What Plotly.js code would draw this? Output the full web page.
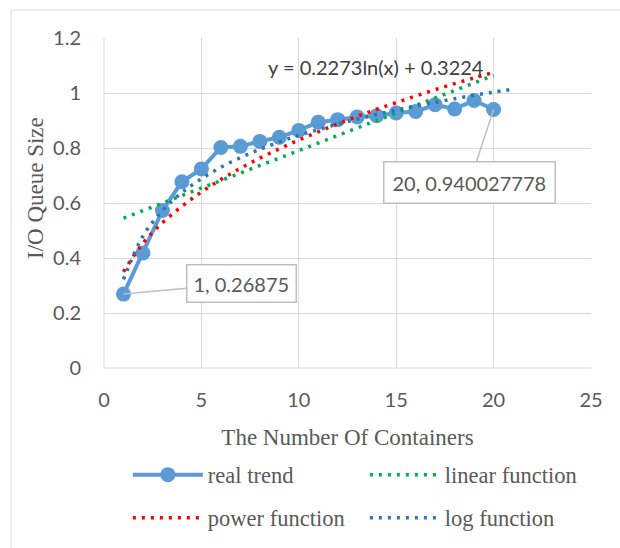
<!DOCTYPE html>
<html>
<head>
<meta charset="utf-8">
<script src="https://cdn.plot.ly/plotly-3.0.1.min.js"></script>
<style>html,body{margin:0;padding:0;background:#fff;}#chart{width:620px;height:548px;}</style>
</head>
<body>
<div id="chart"></div>
<script>
// ---- data ----
const containers = [1,2,3,4,5,6,7,8,9,10,11,12,13,14,15,16,17,18,19,20];
const realTrend = [0.26875,0.418,0.573,0.677,0.724,0.802,0.806,0.824,0.839,0.864,0.894,0.903,0.913,0.917,0.927,0.933,0.957,0.942,0.973,0.940027778];

const linearX = [1,20];
const linearY = [0.545,1.064];

const powerX = [1,2,3,4,5,6,7,8,9,10,11,12,13,14,15,16,17,18,19,20];
const powerY = [0.350,0.454,0.528,0.588,0.640,0.685,0.726,0.763,0.797,0.829,0.859,0.888,0.915,0.941,0.965,0.989,1.012,1.034,1.055,1.075];

const logX = [1,2,3,4,5,6,7,8,9,10,11,12,13,14,15,16,17,18,19,20,21];
const logY = [0.322,0.480,0.572,0.638,0.688,0.730,0.765,0.795,0.822,0.846,0.867,0.887,0.905,0.922,0.938,0.953,0.966,0.979,0.992,1.003,1.014];

const seriesNames = ['real trend','linear function','power function','log function'];
const xTickVals = [0,5,10,15,20,25];
const yTickVals = [0,0.2,0.4,0.6,0.8,1.0,1.2];
const yTickText = ['0','0.2','0.4','0.6','0.8','1','1.2'];
const equationText = 'y = 0.2273ln(x) + 0.3224';
const xTitle = 'The Number Of Containers';
const yTitle = 'I/O Queue Size';

const sansFont = 'Lato, "Open Sans", sans-serif';
const serifFont = '"Liberation Serif", "DejaVu Serif", serif';
const grey = '#595959';
const dotted = '3px,6px';

const traces = [
  {x: containers, y: realTrend, name: seriesNames[0], mode: 'lines+markers', type: 'scatter',
   line: {color: '#5B9BD5', width: 4}, marker: {color: '#5B9BD5', size: 15}, legend: 'legend'},
  {x: linearX, y: linearY, name: seriesNames[1], mode: 'lines', type: 'scatter',
   line: {color: '#00B050', width: 3.5, dash: dotted}, legend: 'legend'},
  {x: powerX, y: powerY, name: seriesNames[2], mode: 'lines', type: 'scatter',
   line: {color: '#FF0000', width: 3.5, dash: dotted, shape: 'spline'}, legend: 'legend2'},
  {x: logX, y: logY, name: seriesNames[3], mode: 'lines', type: 'scatter',
   line: {color: '#2E75B6', width: 3.5, dash: dotted, shape: 'spline'}, legend: 'legend2'}
];

const n = containers.length;
const legendBase = {
  orientation: 'h', xanchor: 'left', yanchor: 'middle',
  itemwidth: 70, entrywidth: 152, entrywidthmode: 'pixels',
  font: {family: serifFont, size: 22.5, color: grey}, bgcolor: 'rgba(0,0,0,0)'
};
const layout = {
  width: 620, height: 548,
  margin: {l: 104, r: 29, t: 38, b: 180, autoexpand: false},
  paper_bgcolor: '#fff', plot_bgcolor: '#fff',
  showlegend: true,
  xaxis: {
    range: [0, 25], tickvals: xTickVals, showgrid: true, gridcolor: '#D9D9D9', gridwidth: 1,
    zeroline: false, showline: false, ticks: '', ticklabelstandoff: 18,
    tickfont: {family: sansFont, size: 20, color: grey},
    title: {text: xTitle, font: {family: serifFont, size: 23, color: grey}, standoff: 18}
  },
  yaxis: {
    range: [0, 1.2], tickvals: yTickVals, ticktext: yTickText, showgrid: true, gridcolor: '#D9D9D9', gridwidth: 1,
    zeroline: false, showline: false, ticks: '', ticklabelstandoff: 22,
    tickfont: {family: sansFont, size: 20, color: grey}
  },
  legend: Object.assign({}, legendBase, {x: 0.049, y: (368 - 475) / 330}),
  legend2: Object.assign({}, legendBase, {x: 0.049, y: (368 - 518) / 330}),
  shapes: [
    {type: 'rect', xref: 'paper', yref: 'paper', x0: -0.191, x1: 1.2, y0: -0.7, y1: 1.0848,
     line: {color: '#D9D9D9', width: 1}, fillcolor: 'rgba(0,0,0,0)', layer: 'below'},
    {type: 'line', xref: 'paper', yref: 'paper', x0: 0, x1: 0, y0: 0, y1: 1, line: {color: '#D9D9D9', width: 1}},
    {type: 'line', xref: 'paper', yref: 'paper', x0: 0, x1: 1, y0: 0, y1: 0, line: {color: '#D9D9D9', width: 1}}
  ],
  annotations: [
    {xref: 'paper', yref: 'paper', x: (35 - 104) / 487, y: (368 - 188) / 330, xanchor: 'center', yanchor: 'middle',
     text: yTitle, textangle: -90, showarrow: false,
     font: {family: serifFont, size: 23, color: grey}},
    {xref: 'paper', yref: 'paper', x: (376 - 104) / 487, y: (368 - 66.7) / 330, xanchor: 'center', yanchor: 'middle',
     text: equationText, showarrow: false,
     font: {family: sansFont, size: 20, color: '#404040'}},
    {x: containers[0], y: realTrend[0], text: containers[0] + ', ' + realTrend[0], showarrow: true,
     arrowhead: 0, arrowwidth: 1.5, arrowcolor: '#BFBFBF', ax: 118, ay: -11,
     bgcolor: '#fff', bordercolor: '#BFBFBF', borderwidth: 1.5, borderpad: 6,
     font: {family: sansFont, size: 20, color: grey}},
    {x: containers[n - 1], y: realTrend[n - 1], text: containers[n - 1] + ', ' + realTrend[n - 1], showarrow: true,
     arrowhead: 0, arrowwidth: 1.5, arrowcolor: '#BFBFBF', ax: -24, ay: 73,
     bgcolor: '#fff', bordercolor: '#BFBFBF', borderwidth: 1.5, borderpad: 8,
     font: {family: sansFont, size: 20, color: grey}}
  ]
};

Plotly.newPlot('chart', traces, layout, {staticPlot: true, displayModeBar: false});
</script>
</body>
</html>
